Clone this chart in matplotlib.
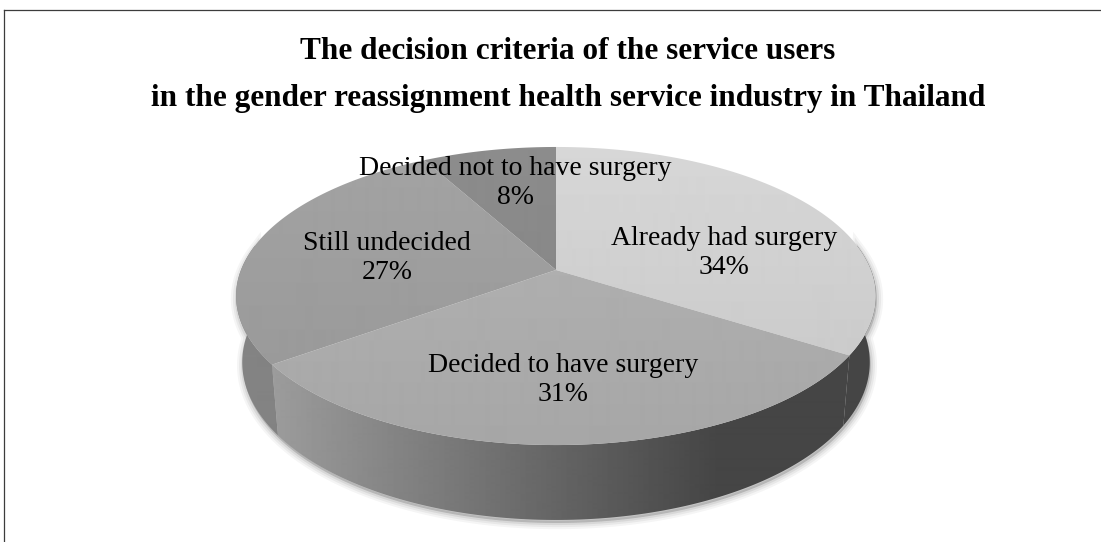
# 3D style pie of the decision criteria of service users, redrawn with matplotlib

import numpy as np
import matplotlib.pyplot as plt
from matplotlib.patches import Polygon

title_lines = ["The decision criteria of the service users",
               "in the gender reassignment health service industry in Thailand"]
labels = ["Already had surgery", "Decided to have surgery",
          "Still undecided", "Decided not to have surgery"]
values = [34, 31, 27, 8]

# grey levels for the top faces and the (left, right) ends of the side walls
top_grays = [0.81, 0.68, 0.615, 0.53]
side_grays = [(0.29, 0.27), (0.64, 0.27), (0.52, 0.42), (0.45, 0.40)]

# where the labels sit (centre x, baseline of first line) in pixels
label_pos = [(724, 245), (563, 372), (387, 250), (515, 175)]

W, H = 1101, 542

# perspective of the pie: centre, radii, vanishing factor, thickness
CX, CY = 556, 270
A, B = 315, 144.5
K = 0.1745
M, E = 0.019, 66.6


# Projects a point on the pie (angle in degrees, radius, 0 = top / 1 = bottom)

def project(t, r=1.0, h=0.0):
    t = np.radians(t)
    u = r * np.cos(t)
    v = r * np.sin(t)
    w = 1 + K * v + M * h
    return CX + A * u / w, CY - (B * v - E * h) / w


def arc(a0, a1, h=0.0, n=200):
    t = np.linspace(a0, a1, n)
    x, y = project(t, 1.0, h)
    return np.column_stack([x, y])


# Slices go clockwise from twelve o'clock

def slice_angles(vals):
    fr = np.cumsum([0] + list(vals)) / sum(vals)
    return [(90 - fr[i + 1] * 360, 90 - fr[i] * 360) for i in range(len(vals))]


def clip_image(ax, arr, poly, z):
    patch = Polygon(poly, closed=True, facecolor="none", edgecolor="none")
    ax.add_patch(patch)
    im = ax.imshow(arr, cmap="gray", vmin=0, vmax=1, extent=(0, W, H, 0),
                   aspect="auto", interpolation="bilinear", zorder=z)
    im.set_clip_path(patch)


def main():
    fig = plt.figure(figsize=(W / 100, H / 100), dpi=100)
    ax = fig.add_axes([0, 0, 1, 1])

    angles = slice_angles(values)
    xs = np.arange(W) + 0.5
    ys = np.arange(H) + 0.5

    # soft shadow under the pie
    band = np.vstack([arc(-190, 10, 0), arc(10, -190, 1)])
    for lw, al in [(9, 0.04), (6, 0.05), (3, 0.07)]:
        ax.add_patch(Polygon(band + [1, 3], closed=True, facecolor=(0, 0, 0, al),
                             edgecolor=(0, 0, 0, al), linewidth=lw, zorder=1))

    # side walls (only the front part shows)
    for (a0, a1), (hi, lo) in zip(angles, side_grays):
        for w0, w1 in [(-190, 10), (170, 370)]:
            lo_a, hi_a = max(a0, w0), min(a1, w1)
            if hi_a <= lo_a:
                continue
            poly = np.vstack([arc(lo_a, hi_a, 0), arc(hi_a, lo_a, 1)])
            f = np.clip((xs - 236) / (720 - 236), 0, 1)
            clip_image(ax, (hi + (lo - hi) * f)[None, :], poly, 2)

    # top faces with a light vertical gradient
    for (a0, a1), g in zip(angles, top_grays):
        poly = np.vstack([[CX, CY], arc(a0, a1, 0)])
        shade = g * (1.04 - 0.08 * np.clip((ys - 147) / 298, 0, 1))
        clip_image(ax, shade[:, None], poly, 3)

    # data labels
    total = sum(values)
    for name, v, (lx, ly) in zip(labels, values, label_pos):
        ax.text(lx, ly, name, ha="center", va="baseline", fontsize=20,
                family="Liberation Serif", color="black", zorder=5)
        ax.text(lx, ly + 29, f"{v / total * 100:.0f}%", ha="center", va="baseline",
                fontsize=20, family="Liberation Serif", color="black", zorder=5)

    # title
    ax.text(568, 59, title_lines[0], ha="center", va="baseline", fontsize=22.5,
            fontweight="bold", family="Liberation Serif")
    ax.text(568, 106, title_lines[1], ha="center", va="baseline", fontsize=22.5,
            fontweight="bold", family="Liberation Serif")

    # chart frame, cut off on the right and bottom
    ax.plot([3.5, W], [9.5, 9.5], color="#3c3c3c", linewidth=0.9, zorder=6)
    ax.plot([3.5, 3.5], [9.5, H], color="#3c3c3c", linewidth=0.9, zorder=6)

    ax.set_xlim(0, W)
    ax.set_ylim(H, 0)
    ax.axis("off")
    fig.savefig("out.png", dpi=100)


main()
